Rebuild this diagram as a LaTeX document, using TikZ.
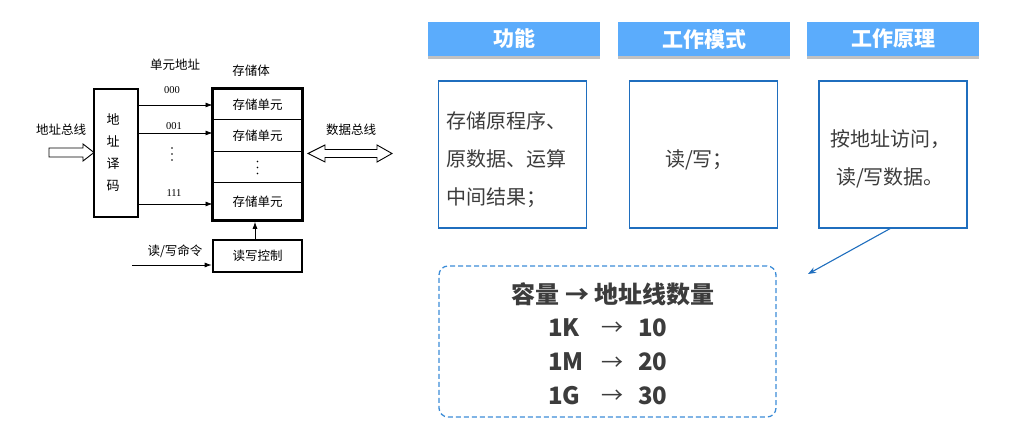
\documentclass[tikz,border=0pt]{standalone}
\usepackage{fontspec}
\setmainfont{Liberation Serif}
\newfontfamily\cjk{Noto Sans CJK SC}
\usetikzlibrary{arrows.meta,shadows,fit}
\definecolor{hdr}{RGB}{91,172,252}
\definecolor{boxblue}{RGB}{31,110,190}
\definecolor{dashblue}{RGB}{60,140,215}
\definecolor{txt}{RGB}{60,60,60}
\begin{document}
\begin{tikzpicture}[x=1pt,y=-1pt,
  lbl/.style={font=\cjk\fontsize{12.5}{14}\selectfont, inner sep=0pt},
  num/.style={font=\fontsize{10.5}{12}\selectfont, inner sep=0pt},
  thickbox/.style={draw, line width=2.6pt, inner sep=0pt},
  cell/.style={draw, line width=1pt, minimum width=89pt, inner sep=0pt, font=\cjk\fontsize{12.5}{14}\selectfont},
  sig/.style={line width=0.8pt, -{Latex[length=7pt,width=5pt]}},
  hollow/.style={draw, line width=0.9pt, fill=white},
  dot/.style={fill=black},
  header/.style={fill=hdr, minimum width=172pt, minimum height=34pt, inner sep=0pt,
    text=white, font=\cjk\bfseries\fontsize{21}{24}\selectfont,
    drop shadow={shadow xshift=0pt, shadow yshift=-3pt, opacity=.35, fill=black!70}},
  infobox/.style={draw=boxblue, line width=1.3pt, minimum width=148pt, minimum height=147pt, inner sep=0pt},
  infotext/.style={text=txt, font=\cjk\fontsize{20}{38}\selectfont, inner sep=0pt},
  captext/.style={text=txt, font=\cjk\bfseries\fontsize{24}{28}\selectfont, inner sep=0pt},
  arrtext/.style={text=txt, font=\cjk\fontsize{22}{24}\selectfont, inner sep=0pt}
]
\useasboundingbox (0,0) rectangle (1026,427);

% ---------- left diagram ----------
\node[thickbox, minimum width=44pt, minimum height=128pt] (dec) at (116,153) {};
\node[lbl, align=center, font=\cjk\fontsize{13}{22}\selectfont] (dectxt) at (113,153) {地\\址\\译\\码};
\node[lbl] (abus) at (61,130) {地址总线};
\draw[hollow] (49,148) -- (83,148) -- (83,144) -- (94,152.5) -- (83,161) -- (83,157) -- (49,157) -- cycle;

\node[cell, minimum height=31pt] (c1) at (257.5,104.5) {存储单元};
\node[cell, minimum height=32pt] (c2) at (257.5,136) {存储单元};
\node[cell, minimum height=31pt] (c3) at (257.5,167.5) {};
\node[cell, minimum height=37pt] (c4) at (257.5,201.5) {存储单元};
\node[thickbox, fit=(c1)(c4)] (mem) {};
\foreach \dy in {-6,0,6} \fill[dot] ([yshift=\dy pt]c3.center) circle (0.8pt);

\node[lbl] (unitaddr) at (175,65) {单元地址};
\node[lbl] (memlbl) at (251,71) {存储体};
\node[num] (a000) at (172,90) {000};
\node[num] (a001) at (174,126) {001};
\node[num] (a111) at (174,193) {111};
\coordinate (adots) at (172,154);
\foreach \dy in {-6,0,6} \fill[dot] ([yshift=\dy pt]adots) circle (0.8pt);

\draw[sig] (dec.east |- 0,105) -- (c1.west |- 0,105);
\draw[sig] (dec.east |- 0,133) -- (c2.west |- 0,133);
\draw[sig] (dec.east |- 0,204) -- (c4.west |- 0,204);

\node[thickbox, minimum width=89pt, minimum height=32pt, font=\cjk\fontsize{12.5}{14}\selectfont] (ctrl) at (257.5,256) {读写控制};
\node[lbl] (rwcmd) at (175,251) {读/写命令};
\coordinate (rwin) at (132,265);
\draw[sig] (rwin) -- (ctrl.west |- rwin);
\draw[sig] (ctrl.north -| 255,0) -- (mem.south -| 255,0);

\node[lbl] (dbus) at (351,130) {数据总线};
\draw[hollow] (308,153.5) -- (325,145) -- (325,149.5) -- (377,149.5) -- (377,145) -- (392,153.5) -- (377,162) -- (377,157.5) -- (325,157.5) -- (325,162) -- cycle;

% ---------- right part ----------
\node[header] (h1) at (514,39) {功能};
\node[header] (h2) at (704,39) {工作模式};
\node[header] (h3) at (893,39) {工作原理};

\node[infobox] (b1) at (512.5,154.5) {};
\node[infobox] (b2) at (703.5,154.5) {};
\node[infobox] (b3) at (893,154.5) {};

\node[infotext, align=left, anchor=west] (t1) at (446,160) {存储原程序、\\原数据、运算\\中间结果；};
\node[infotext] (t2) at (699,160) {读/写；};
\node[infotext, align=center] (t3) at (890,159) {按地址访问，\\读/写数据。};

\node[draw=dashblue, line width=1.3pt, dash pattern=on 5pt off 3pt, rounded corners=9pt,
      minimum width=337pt, minimum height=151pt, inner sep=0pt] (cap) at (607.5,341.5) {};
\node[captext] (cap0) at (613,294) {容量 → 地址线数量};
\node[captext, anchor=west] (k1) at (548,328) {1K};
\node[captext, anchor=west] (m1) at (548,362) {1M};
\node[captext, anchor=west] (g1) at (548,396) {1G};
\node[arrtext] (ar1) at (612,329) {→};
\node[arrtext] (ar2) at (612,364) {→};
\node[arrtext] (ar3) at (612,397) {→};
\node[captext, anchor=west] (n1) at (638,328) {10};
\node[captext, anchor=west] (n2) at (638,362) {20};
\node[captext, anchor=west] (n3) at (638,396) {30};

\coordinate (captip) at (808,274);
\draw[draw=boxblue, line width=1.1pt, -{Stealth[length=8pt,width=6pt]}] (b3.south -| 890,0) -- (captip);
\end{tikzpicture}
\end{document}
